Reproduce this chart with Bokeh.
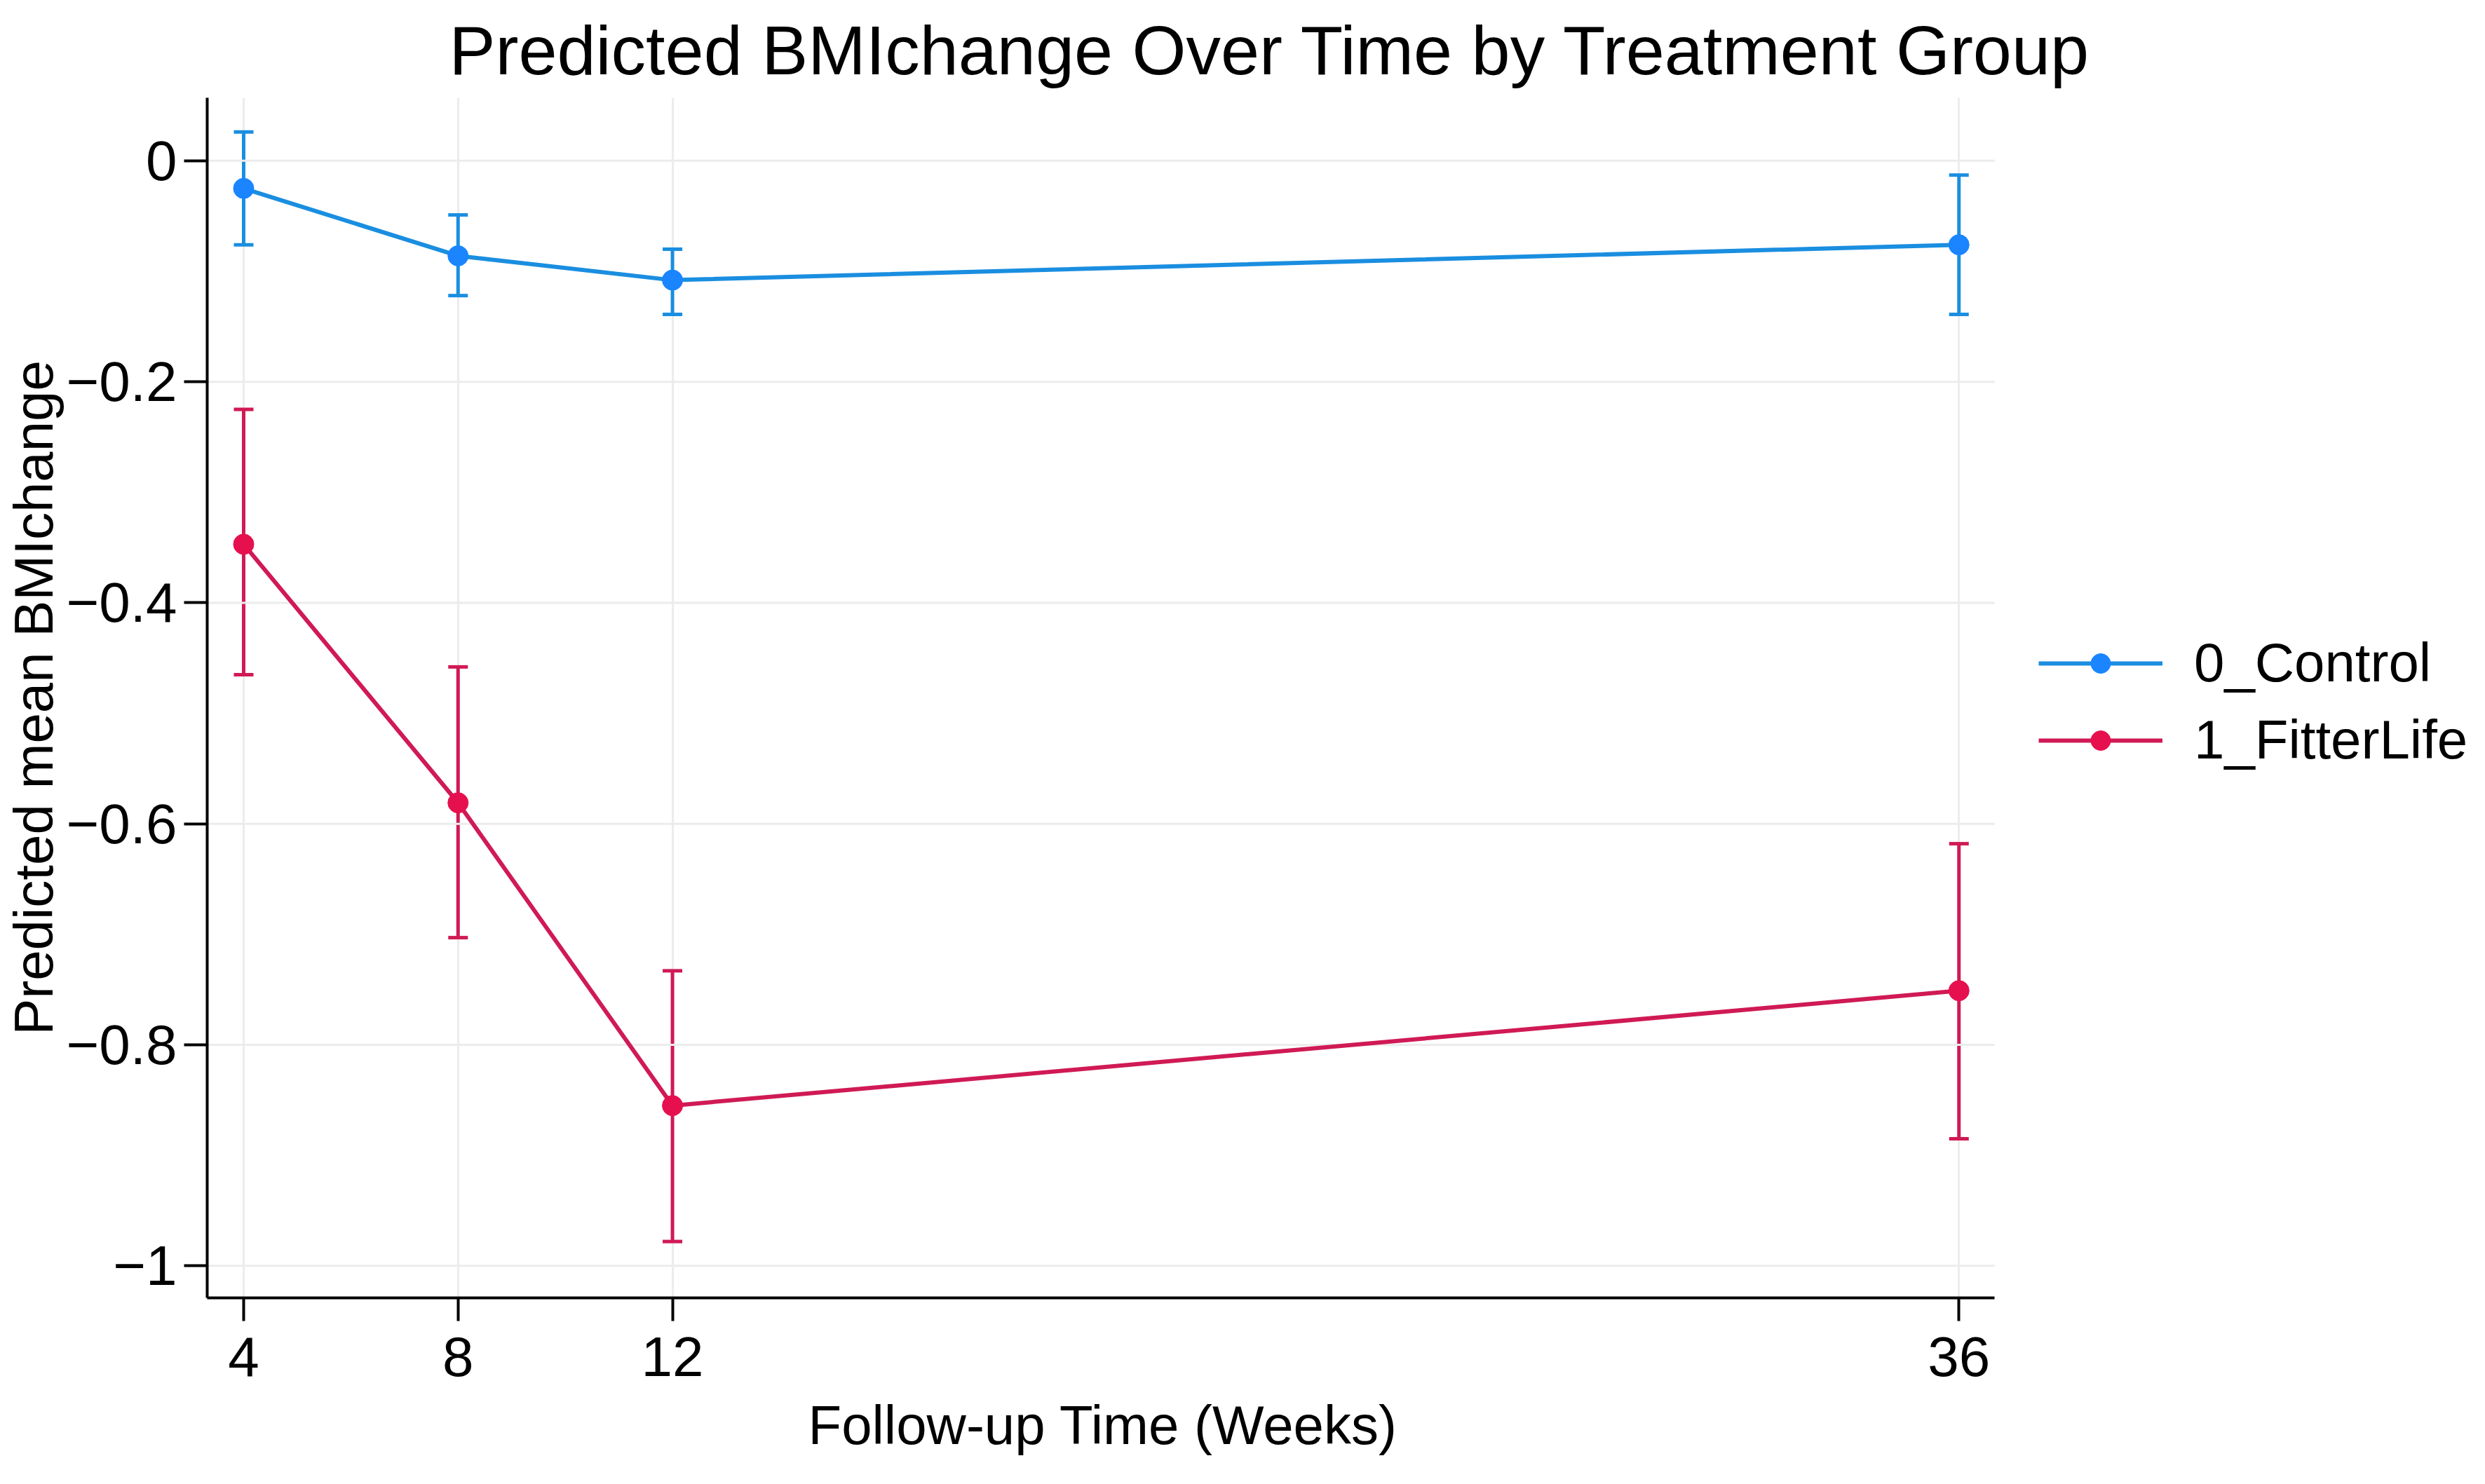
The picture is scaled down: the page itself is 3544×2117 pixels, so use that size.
from bokeh.plotting import figure
from bokeh.models import (ColumnDataSource, Whisker, TeeHead, Legend, LegendItem,
                          FixedTicker, CustomJSTickFormatter, Range1d, Title)
from bokeh.embed import file_html
from bokeh.resources import INLINE

# ---- data ----
weeks = [4, 8, 12, 36]
control_mean = [-0.025, -0.086, -0.108, -0.076]
control_lo = [-0.076, -0.122, -0.139, -0.139]
control_hi = [0.026, -0.049, -0.080, -0.013]
fitter_mean = [-0.347, -0.581, -0.855, -0.751]
fitter_lo = [-0.465, -0.703, -0.978, -0.885]
fitter_hi = [-0.225, -0.458, -0.733, -0.618]
group_names = ["0_Control", "1_FitterLife"]
x_ticks = [4, 8, 12, 36]
y_ticks = [0, -0.2, -0.4, -0.6, -0.8, -1]
y_tick_labels = ["0", "\u22120.2", "\u22120.4", "\u22120.6", "\u22120.8", "\u22121"]

# axis extents (the x axis itself stops at x_hi; the frame continues to hold the legend)
x_lo, x_hi = 3.32, 36.67
y_lo, y_hi = -1.029, 0.057

title_text = "Predicted BMIchange Over Time by Treatment Group"
x_label = "Follow-up Time (Weeks)"
y_label = "Predicted mean BMIchange"

FONT = "Liberation Sans"
line_colors = ["#1a8ee0", "#d01a55"]
marker_colors = ["#1a85ff", "#e6104f"]
grid_color = "#ececec"

W, H = 3528, 2101
LEFT, TOP, BOTTOM = 288, 139, 244
axis_px = 2555  # pixel length of the drawn x axis
x_end = x_lo + (x_hi - x_lo) * (W - LEFT) / axis_px

p = figure(width=W, height=H, output_backend="svg", toolbar_location=None,
           x_range=Range1d(x_lo, x_end), y_range=Range1d(y_lo, y_hi),
           min_border_left=LEFT, min_border_right=0, min_border_top=TOP,
           min_border_bottom=BOTTOM)
p.outline_line_color = None
p.background_fill_color = "white"
p.border_fill_color = "white"

# title
p.title.text = title_text
p.title.align = "left"
p.title.offset = 345
p.title.standoff = 26
p.title.text_font = FONT
p.title.text_font_size = "99px"
p.title.text_font_style = "normal"
p.title.text_color = "black"

# axes
p.xaxis.ticker = FixedTicker(ticks=x_ticks)
p.xaxis.bounds = (x_lo, x_hi)
p.yaxis.ticker = FixedTicker(ticks=y_ticks)
p.yaxis.formatter = CustomJSTickFormatter(
    args=dict(tvals=y_ticks, tlabels=y_tick_labels),
    code="const i = tvals.findIndex(t => Math.abs(t - tick) < 1e-9); return i >= 0 ? tlabels[i] : tick.toString();")
p.yaxis.axis_label = y_label
for ax in (p.xaxis, p.yaxis):
    ax.axis_line_color = "black"
    ax.axis_line_width = 4
    ax.major_tick_line_color = "black"
    ax.major_tick_line_width = 4
    ax.major_tick_out = 33
    ax.major_tick_in = 0
    ax.minor_tick_line_color = None
    ax.major_label_text_font = FONT
    ax.major_label_text_font_size = "80px"
    ax.major_label_text_color = "black"
    ax.axis_label_text_font = FONT
    ax.axis_label_text_font_size = "78px"
    ax.axis_label_text_font_style = "normal"
    ax.axis_label_text_color = "black"
p.xaxis.major_label_standoff = 23
p.yaxis.major_label_standoff = 10
p.yaxis.axis_label_standoff = 0

# x axis title, centred under the drawn axis
xt = Title(text=x_label, align="left", offset=857, vertical_align="top", standoff=46,
           text_font=FONT, text_font_size="78px", text_font_style="normal",
           text_color="black")
p.add_layout(xt, "below")

# grid
p.xgrid.grid_line_color = grid_color
p.xgrid.grid_line_width = 3
p.ygrid.visible = False
p.segment(x0=[x_lo] * len(y_ticks), x1=[x_hi] * len(y_ticks), y0=y_ticks, y1=y_ticks,
          line_color=grid_color, line_width=3)

items = []
series = [(control_mean, control_lo, control_hi), (fitter_mean, fitter_lo, fitter_hi)]
for i, (m, lo, hi) in enumerate(series):
    src = ColumnDataSource(dict(x=weeks, y=m, lo=lo, hi=hi))
    lr = p.line("x", "y", source=src, line_color=line_colors[i], line_width=6)
    wh = Whisker(source=src, base="x", upper="hi", lower="lo", dimension="height",
                 line_color=line_colors[i], line_width=5,
                 upper_head=TeeHead(size=28, line_color=line_colors[i], line_width=5),
                 lower_head=TeeHead(size=28, line_color=line_colors[i], line_width=5))
    p.add_layout(wh)
    sr = p.scatter("x", "y", source=src, size=29, fill_color=marker_colors[i],
                   line_color=marker_colors[i], line_width=1)
    items.append(LegendItem(label=group_names[i], renderers=[lr, sr]))

legend = Legend(items=items, location=(2612, 750), orientation="vertical")
legend.label_text_font = FONT
legend.label_text_font_size = "78px"
legend.label_text_color = "black"
legend.glyph_width = 177
legend.glyph_height = 70
legend.label_standoff = 45
legend.spacing = 19
legend.padding = 0
legend.margin = 0
legend.border_line_color = None
legend.background_fill_color = None
legend.background_fill_alpha = 0
p.add_layout(legend, "center")

open("out.html", "w").write(file_html(p, INLINE))
